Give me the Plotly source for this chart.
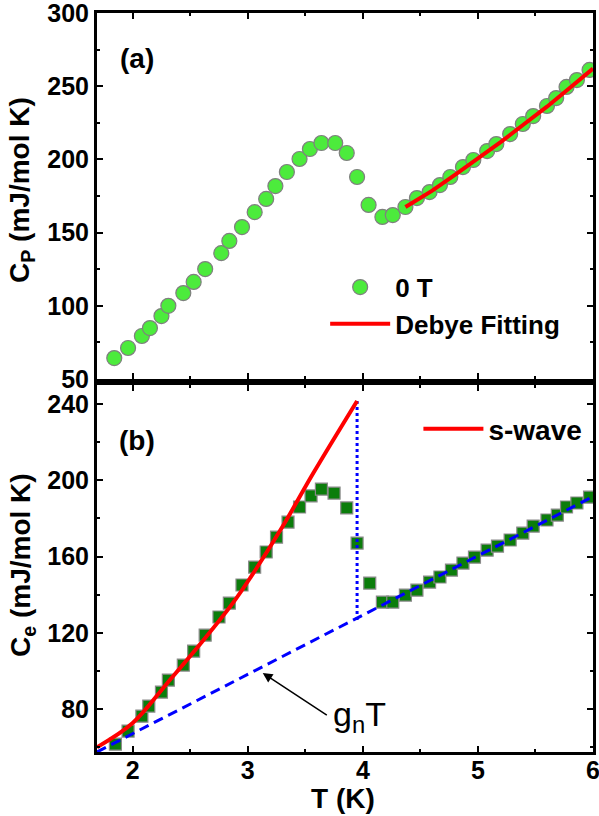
import plotly.graph_objects as go

# ---------------- data ----------------
# (a) total specific heat, 0 T
T_a = [1.84, 1.96, 2.08, 2.15, 2.25, 2.31, 2.44, 2.53, 2.63, 2.77, 2.84, 2.95, 3.06, 3.16, 3.24,
       3.34, 3.45, 3.54, 3.64, 3.76, 3.86, 3.95, 4.05, 4.17, 4.26, 4.37, 4.47, 4.58, 4.67, 4.76,
       4.87, 4.96, 5.08, 5.16, 5.28, 5.39, 5.48, 5.60, 5.68, 5.77, 5.86, 5.97]
Cp_a = [64.3, 71.2, 79.4, 84.8, 93.0, 100.0, 108.7, 116.3, 125.1, 136.0, 144.3, 153.8, 164.0, 173.0, 181.8,
        191.4, 200.3, 207.1, 211.2, 211.2, 204.4, 188.0, 168.9, 160.7, 162.0, 167.5, 173.6, 177.7, 182.5, 188.0,
        194.8, 199.6, 205.7, 210.5, 217.3, 224.2, 229.6, 236.5, 241.9, 249.5, 254.2, 261.1]
# Debye fitting
T_fit = [4.37, 4.6, 4.8, 5.0, 5.2, 5.4, 5.6, 5.8, 6.0]
Cp_fit = [167.5, 178.5, 189.5, 200.5, 212.0, 224.0, 236.0, 249.0, 262.0]

# (b) electronic specific heat
T_b = [1.85, 1.96, 2.08, 2.14, 2.25, 2.31, 2.44, 2.53, 2.63, 2.75, 2.84, 2.95, 3.06, 3.16, 3.25,
       3.35, 3.45, 3.55, 3.64, 3.75, 3.86, 3.95, 4.06, 4.17, 4.26, 4.37, 4.47, 4.58, 4.67, 4.77,
       4.87, 4.97, 5.08, 5.17, 5.28, 5.39, 5.48, 5.60, 5.69, 5.77, 5.86, 5.97]
Ce_b = [61.6, 68.5, 76.3, 81.6, 88.9, 95.2, 103.1, 110.4, 118.8, 128.3, 135.6, 145.1, 154.5, 162.4, 170.2,
        178.1, 186.0, 191.8, 195.4, 193.3, 185.5, 167.1, 146.1, 136.1, 136.1, 139.8, 142.4, 146.6, 149.3, 152.9,
        156.6, 159.7, 163.4, 165.5, 168.7, 172.3, 176.0, 179.2, 181.8, 186.0, 188.1, 191.2]
# s-wave fit
T_s = [1.69, 2.0, 2.3, 2.58, 2.87, 3.02, 3.3, 3.57, 3.95]
Ce_s = [60.0, 72.7, 93.6, 113.6, 135.6, 148.7, 175.5, 203.8, 241.6]
# gamma_n T line
T_g = [1.69, 6.0]
Ce_g = [57.5, 191.5]
# entropy-balance jump at Tc
T_jump = [3.95, 3.95]
Ce_jump = [241.6, 125.1]

top_yticks = [50, 100, 150, 200, 250, 300]
bot_yticks = [80, 120, 160, 200, 240]
xticks = [2, 3, 4, 5, 6]

FONT = "Arial, Liberation Sans, sans-serif"

fig = go.Figure()

fig.add_trace(go.Scatter(x=T_a, y=Cp_a, mode="markers", name="0 T",
                         marker=dict(symbol="circle", size=15, color="#4CEB3C",
                                     line=dict(color="#7f7f7f", width=1.2)),
                         xaxis="x2", yaxis="y2", legend="legend"))
fig.add_trace(go.Scatter(x=T_fit, y=Cp_fit, mode="lines", name="Debye Fitting",
                         line=dict(color="#FF0000", width=4),
                         xaxis="x2", yaxis="y2", legend="legend"))

fig.add_trace(go.Scatter(x=T_b, y=Ce_b, mode="markers", showlegend=False,
                         marker=dict(symbol="square", size=12, color="#0B7D0B",
                                     line=dict(color="#8a8a8a", width=1.2)),
                         xaxis="x", yaxis="y"))
fig.add_trace(go.Scatter(x=T_g, y=Ce_g, mode="lines", showlegend=False,
                         line=dict(color="#0000FF", width=3, dash="10px,6px"),
                         xaxis="x", yaxis="y"))
fig.add_trace(go.Scatter(x=T_jump, y=Ce_jump, mode="lines", showlegend=False,
                         line=dict(color="#0000FF", width=3, dash="3px,3px"),
                         xaxis="x", yaxis="y"))
fig.add_trace(go.Scatter(x=T_s, y=Ce_s, mode="lines", name="s-wave",
                         line=dict(color="#FF0000", width=4, shape="spline"),
                         xaxis="x", yaxis="y", legend="legend2"))

axis_common = dict(showline=True, linewidth=3, linecolor="black", mirror="ticks",
                   ticks="inside", ticklen=6, tickwidth=2, tickcolor="black",
                   showgrid=False, zeroline=False, automargin=False, ticklabeloverflow="allow",
                   tickfont=dict(family=FONT, size=25, color="black", weight="bold"))

fig.update_layout(
    width=599, height=816,
    margin=dict(l=97, r=6, t=13, b=64),
    paper_bgcolor="white", plot_bgcolor="white",
    xaxis=dict(range=[1.69, 6.0], tickvals=xticks, anchor="y", ticklabelstandoff=-6,
               minor=dict(dtick=0.5, ticks="inside", ticklen=3, tickwidth=2, tickcolor="black"),
               **axis_common),
    yaxis=dict(range=[57.5, 250], tickvals=bot_yticks, domain=[0, 0.4966], anchor="x",
               minor=dict(dtick=20, ticks="inside", ticklen=3, tickwidth=2, tickcolor="black"),
               **axis_common),
    xaxis2=dict(range=[1.69, 6.0], tickvals=xticks, anchor="y2", matches="x", showticklabels=False,
                minor=dict(dtick=0.5, ticks="inside", ticklen=3, tickwidth=2, tickcolor="black"),
                **axis_common),
    yaxis2=dict(range=[50, 300.01], tickvals=top_yticks, domain=[0.5047, 1], anchor="x2",
                minor=dict(dtick=25, ticks="inside", ticklen=3, tickwidth=2, tickcolor="black"),
                **axis_common),
    legend=dict(x=0.46, y=0.604, xanchor="left", yanchor="middle", bgcolor="rgba(0,0,0,0)",
                font=dict(family=FONT, size=26, color="black", weight="bold"),
                itemwidth=60, tracegroupgap=0),
    legend2=dict(x=0.648, y=0.437, xanchor="left", yanchor="middle", bgcolor="rgba(0,0,0,0)",
                 font=dict(family=FONT, size=28, color="black", weight="bold"),
                 itemwidth=60),
)


def px_x(p):
    return (p - 97) / 496


def px_y(p):
    return (752 - p) / 739


def label(text, x, y, size, angle=0, bold=True):
    fig.add_annotation(text=text, x=px_x(x), y=px_y(y), xref="paper", yref="paper",
                       showarrow=False, textangle=angle, xanchor="center", yanchor="middle",
                       font=dict(family=FONT, size=size, color="black",
                                 weight="bold" if bold else "normal"))


label("(a)", 137, 59, 28)
label("(b)", 137, 440, 28)
label("C<sub>P</sub> (mJ/mol K)", 22, 190, 28, angle=-90)
label("C<sub>e</sub> (mJ/mol K)", 22, 565, 28, angle=-90)
label("T (K)", 343, 798, 28)

# arrow pointing to gamma_n T line
fig.add_annotation(x=3.13, y=98.9, ax=3.70, ay=76.3, xref="x", yref="y", axref="x", ayref="y",
                   text="", showarrow=True, arrowhead=2, arrowsize=1.3, arrowwidth=1.5, arrowcolor="black")
fig.add_annotation(text="g<sub>n</sub>T", x=3.72, y=76, xref="x", yref="y", showarrow=False,
                   xanchor="left", yanchor="middle",
                   font=dict(family=FONT, size=34, color="black"))

fig.write_html("out.html")
